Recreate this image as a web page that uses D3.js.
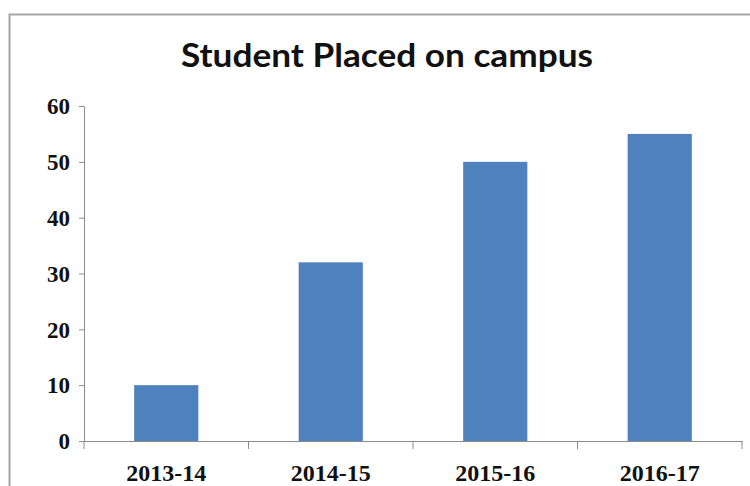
<!DOCTYPE html>
<html>
<head>
<meta charset="utf-8">
<script src="https://cdn.jsdelivr.net/npm/d3@7"></script>
<style>
  body { margin: 0; background: #fff; }
  svg { display: block; }
  .axis path, .axis line { stroke: #8c8c8c; }
  .axis text { font-family: "Liberation Serif", "Times New Roman", serif; font-weight: bold; fill: #111; }
</style>
</head>
<body>
<svg id="chart" width="750" height="486"></svg>
<script>
// chart data
var years = ["2013-14", "2014-15", "2015-16", "2016-17"];
var placed = [10, 32, 50, 55];
var yTicks = [0, 10, 20, 30, 40, 50, 60];
var chartTitle = "Student Placed on campus";

var svg = d3.select("#chart"),
    margin = {top: 106, right: 8, bottom: 45, left: 84},
    width = +svg.attr("width") - margin.left - margin.right,
    height = +svg.attr("height") - margin.top - margin.bottom;

// frame of the chart area
svg.append("path")
    .attr("d", "M9.5,486 V14.5 H750")
    .attr("fill", "none")
    .attr("stroke", "#a6a6a6")
    .attr("stroke-width", 2);

var x = d3.scaleBand().domain(years).range([0, width]).paddingInner(0.61).paddingOuter(0.305);
var y = d3.scaleLinear().domain([0, 60]).range([height, 0]);

var g = svg.append("g")
    .attr("transform", "translate(" + margin.left + "," + margin.top + ")");

g.selectAll(".bar")
    .data(placed)
    .enter().append("rect")
    .attr("class", "bar")
    .attr("x", function (d, i) { return x(years[i]); })
    .attr("y", function (d) { return y(d); })
    .attr("width", x.bandwidth())
    .attr("height", function (d) { return height - y(d); })
    .attr("fill", "#4f81bd");

// y axis
var yAxis = g.append("g")
    .attr("class", "axis")
    .call(d3.axisLeft(y).tickValues(yTicks).tickSize(5).tickPadding(9).tickSizeOuter(0));
yAxis.selectAll("text").style("font-size", "23px").attr("dy", "0.34em");

// x axis, ticks sit between the categories
var xAxis = g.append("g")
    .attr("class", "axis")
    .attr("transform", "translate(0," + height + ")")
    .call(d3.axisBottom(x).tickSize(0).tickPadding(23).tickSizeOuter(0));
xAxis.selectAll("text").style("font-size", "24px");

var step = x.step();
xAxis.selectAll(".sep")
    .data(d3.range(years.length + 1))
    .enter().append("line")
    .attr("class", "sep")
    .attr("x1", function (d) { return x.range()[0] + d * step; })
    .attr("x2", function (d) { return x.range()[0] + d * step; })
    .attr("y1", 0)
    .attr("y2", 8)
    .attr("stroke", "#8c8c8c");

// title
svg.append("text")
    .attr("x", 387)
    .attr("y", 67)
    .attr("text-anchor", "middle")
    .attr("textLength", 412)
    .attr("lengthAdjust", "spacingAndGlyphs")
    .style("font-family", "Lato, 'Open Sans', sans-serif")
    .style("font-weight", "bold")
    .style("font-size", "33px")
    .style("fill", "#111")
    .text(chartTitle);
</script>
</body>
</html>
